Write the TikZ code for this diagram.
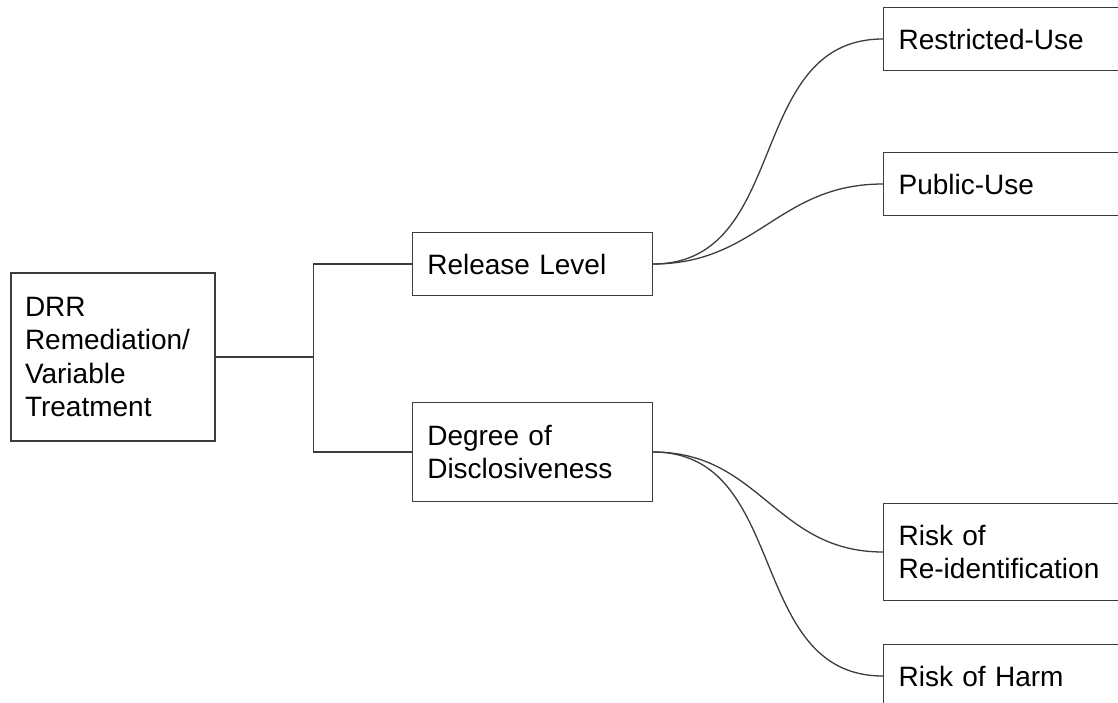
\documentclass[tikz,border=0pt]{standalone}
\usepackage{fontspec}
\setmainfont{Liberation Sans}
\usetikzlibrary{positioning}
\definecolor{linegray}{RGB}{60,60,60}
\tikzset{
    box/.style={
        rectangle, draw=linegray, line width=1.3pt, fill=white,
        align=left, inner xsep=14pt, inner ysep=0pt,
        font=\fontsize{28}{33.6}\selectfont
    },
    rootbox/.style={box, text width=176pt, minimum height=168pt},
    midbox/.style={box, inner xsep=15pt, text width=210pt},
    leafbox/.style={box, inner xsep=15pt, text width=210pt},
    link/.style={draw=linegray, line width=1.3pt},
    curvelink/.style={link, out=0, in=180, looseness=1.1}
}
\begin{document}
\begin{tikzpicture}[x=1pt, y=-1pt]
\useasboundingbox (0,0) rectangle (1118,703);

% Left: root
\node[rootbox] (drr) at (113,357) {DRR\\Remediation/\\Variable\\Treatment};

% Center: categories
\node[midbox, minimum height=63pt, right=196pt of drr, yshift=93pt] (release) {Release Level};
\node[midbox, minimum height=99pt, right=196pt of drr, yshift=-95pt] (degree) {Degree of\\Disclosiveness};

% Right: leaves
\node[leafbox, minimum height=63pt, right=230pt of release, yshift=225pt] (restricted) {Restricted-Use};
\node[leafbox, minimum height=63pt, right=230pt of release, yshift=80pt] (public) {Public-Use};
\node[leafbox, minimum height=97pt, right=230pt of degree, yshift=-100pt] (reident) {Risk of\\Re-identification};
\node[leafbox, minimum height=63pt, right=230pt of degree, yshift=-224pt] (harm) {Risk of Harm};

% Elbow connectors
\draw[link] (drr.east) -- ++(98pt,0) coordinate (split) |- (release.west);
\draw[link] (split) |- (degree.west);

% Curved connectors
\draw[link] (release.east) to[curvelink] (restricted.west);
\draw[link] (release.east) to[curvelink] (public.west);
\draw[link] (degree.east) to[curvelink] (reident.west);
\draw[link] (degree.east) to[curvelink] (harm.west);

\end{tikzpicture}
\end{document}
